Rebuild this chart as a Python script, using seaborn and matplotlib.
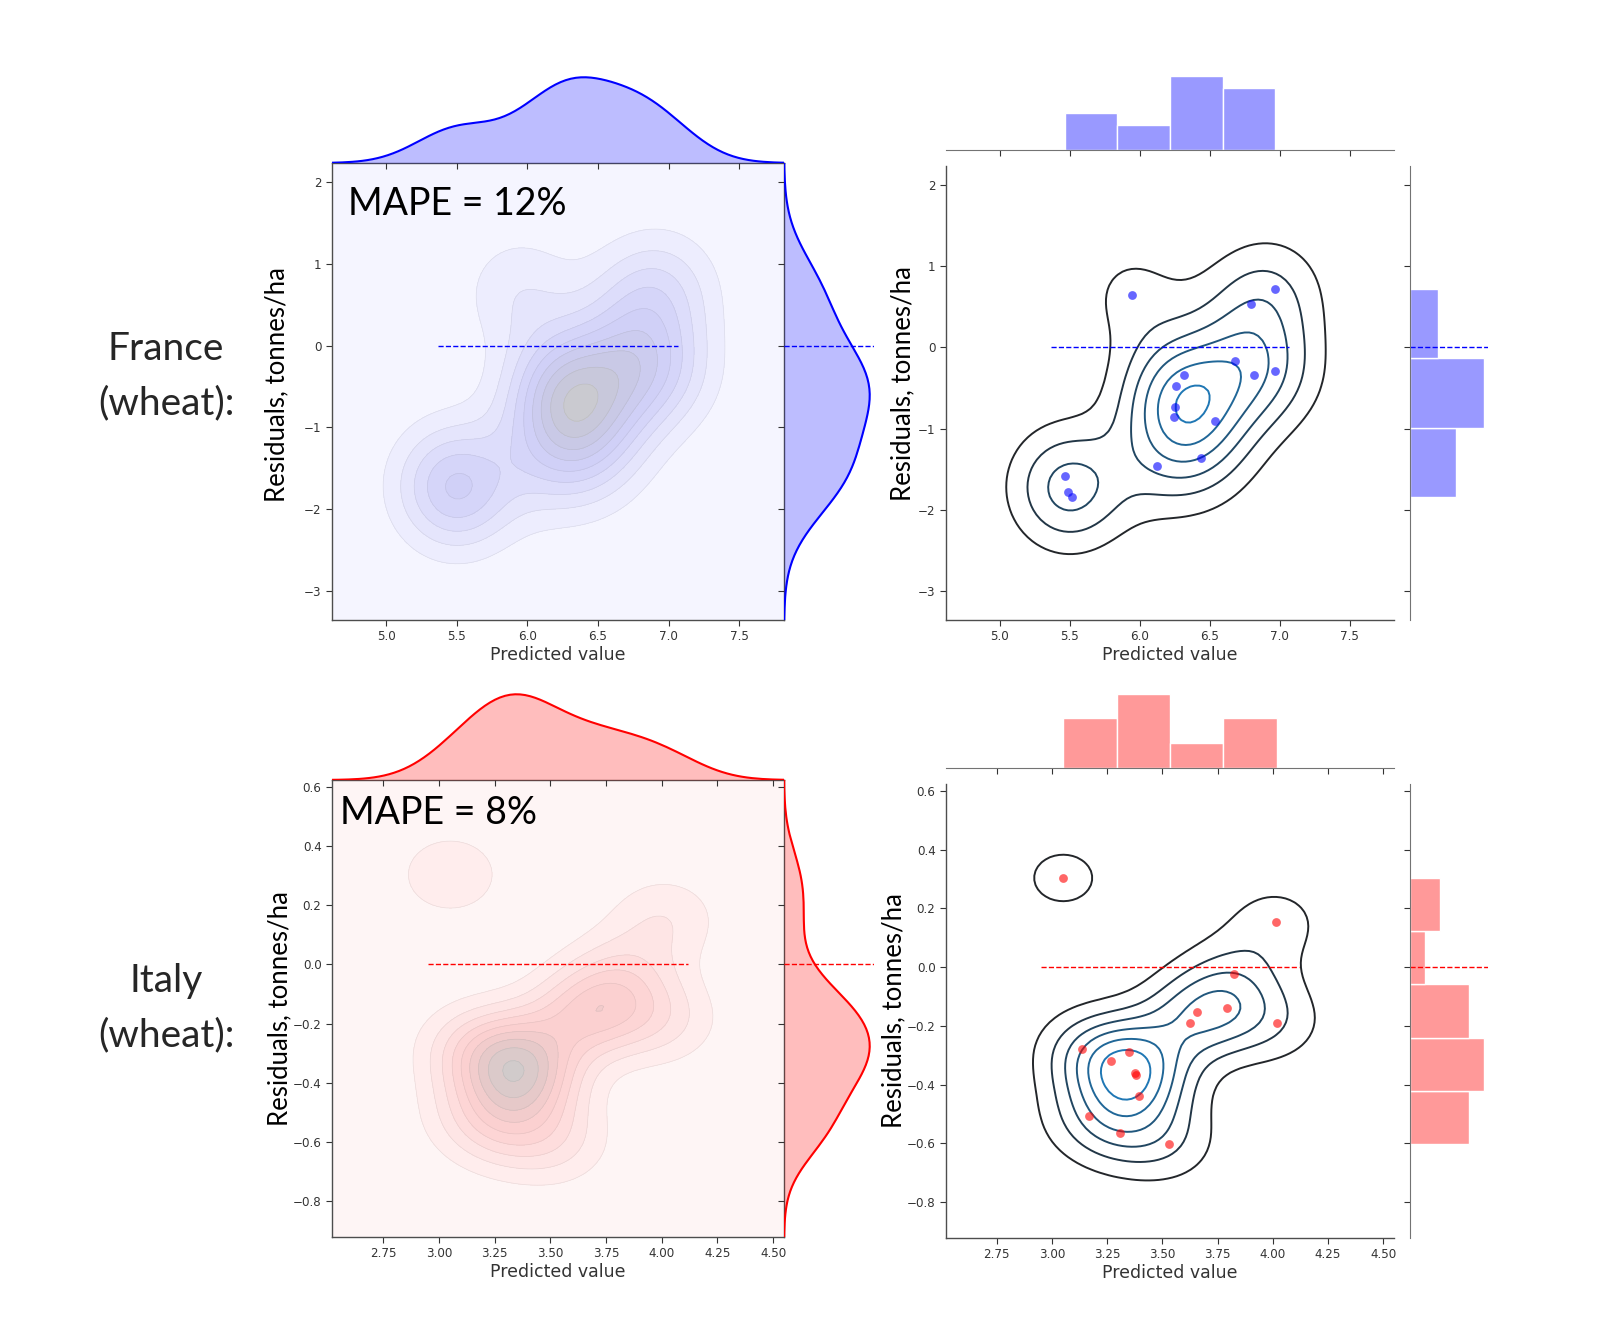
import numpy as np
import pandas as pd
import matplotlib
matplotlib.use("Agg")
import matplotlib.pyplot as plt
from matplotlib.ticker import MaxNLocator
import seaborn as sns
from matplotlib.colors import LinearSegmentedColormap

# ---------------- data ----------------
france_pred = [5.945, 6.970, 6.796, 6.678, 6.820, 6.967, 6.320, 6.261,
               6.251, 6.249, 6.540, 6.441, 6.126, 5.464, 5.488, 5.517]
france_resid = [0.652, 0.717, 0.537, -0.164, -0.336, -0.291, -0.336, -0.480,
                -0.734, -0.852, -0.910, -1.361, -1.455, -1.578, -1.779, -1.840]
italy_pred = [3.051, 4.013, 3.822, 3.657, 3.627, 3.794, 4.018, 3.137,
              3.351, 3.269, 3.374, 3.381, 3.396, 3.167, 3.309, 3.531]
italy_resid = [0.304, 0.155, -0.024, -0.153, -0.189, -0.139, -0.190, -0.280,
               -0.287, -0.320, -0.359, -0.368, -0.440, -0.507, -0.564, -0.602]

france_mape = "MAPE = 12%"
italy_mape = "MAPE = 8%"
row_labels = ["France\n(wheat):", "Italy\n(wheat):"]

france_xticks = [5.0, 5.5, 6.0, 6.5, 7.0, 7.5]
france_yticks = [-3, -2, -1, 0, 1, 2]
italy_xticks = [2.75, 3.00, 3.25, 3.50, 3.75, 4.00, 4.25, 4.50]
italy_yticks = [-0.8, -0.6, -0.4, -0.2, 0.0, 0.2, 0.4, 0.6]

france_bins = (4, 3)
italy_bins = (4, 5)

# ---------------- style ----------------
sns.set_style("ticks")
plt.rcParams["font.family"] = ["DejaVu Sans"]
GEOM = ["Lato", "DejaVu Sans"]
W, H = 1597, 1337
fig = plt.figure(figsize=(W / 100, H / 100), dpi=100)


def fr(l, t, r, b):
    return [l / W, 1 - b / H, (r - l) / W, (b - t) / H]


blue_fill = LinearSegmentedColormap.from_list(
    "bf", ["#f8f8ff", "#eeeefe", "#e2e2fc", "#d6d6fa", "#cfcff6",
           "#c9c9ea", "#c8c8da", "#cbcbcb"])
red_fill = LinearSegmentedColormap.from_list(
    "rf", ["#fdf8f8", "#ffeeee", "#fee2e2", "#fdd6d6", "#fbcfcf",
           "#ebc9c9", "#dacaca", "#cccccc"])
dark_cmap = sns.dark_palette("#1f77b4", as_cmap=True)


def bw_scott(a):
    a = np.asarray(a, float)
    iqr = (np.percentile(a, 75) - np.percentile(a, 25)) / 1.349
    sigma = min(a.std(ddof=1), iqr) if iqr > 0 else a.std(ddof=1)
    return 1.059 * sigma * len(a) ** (-0.2)


def kde_grid(x, y, cut=3, gridsize=100):
    x = np.asarray(x, float)
    y = np.asarray(y, float)
    bx, by = bw_scott(x), bw_scott(y)
    xs = np.linspace(x.min() - cut * bx, x.max() + cut * bx, gridsize)
    ys = np.linspace(y.min() - cut * by, y.max() + cut * by, gridsize)
    xx, yy = np.meshgrid(xs, ys)
    z = np.zeros_like(xx)
    for xi, yi in zip(x, y):
        z += np.exp(-0.5 * ((xx - xi) / bx) ** 2 - 0.5 * ((yy - yi) / by) ** 2)
    z /= (2 * np.pi * bx * by * len(x))
    return xx, yy, z, (xs[0], xs[-1]), (ys[0], ys[-1])


def bw_adjust_for(a):
    a = np.asarray(a, float)
    return bw_scott(a) / (a.std(ddof=1) * len(a) ** (-0.2))


def style_joint(ax, xlim, ylim, xticks, yticks, all_spines, label_xy):
    ax.set_xlim(*xlim)
    ax.set_ylim(*ylim)
    ax.set_xticks(xticks)
    ax.set_yticks(yticks)
    ax.tick_params(labelsize=8.6, colors="0.2", length=4, width=0.8, direction="out")
    for s in ["top", "right"]:
        ax.spines[s].set_visible(all_spines)
    for s in ax.spines.values():
        s.set_color("0.3")
        s.set_linewidth(1.0)
    ax.set_xlabel("Predicted value", fontsize=12.5, color="0.2", labelpad=2)
    ax.set_ylabel("Residuals, tonnes/ha", fontsize=18.5, family=GEOM,
                  color="black")
    ax.yaxis.set_label_coords(*label_xy)


def style_margx(ax, xlim, xticks):
    ax.set_xlim(*xlim)
    ax.set_xticks(xticks)
    ax.set_xlabel("")
    ax.set_ylabel("")
    for s in ["top", "left", "right"]:
        ax.spines[s].set_visible(False)
    ax.spines["bottom"].set_color("0.45")
    ax.tick_params(axis="x", labelbottom=False, length=4, width=0.8, colors="0.2")
    ax.tick_params(axis="y", left=False, labelleft=False)
    ax.set_facecolor("none")


def style_margy(ax, ylim, yticks):
    ax.set_ylim(*ylim)
    ax.set_yticks(yticks)
    ax.set_xlabel("")
    ax.set_ylabel("")
    for s in ["top", "bottom", "right"]:
        ax.spines[s].set_visible(False)
    ax.spines["left"].set_color("0.45")
    ax.tick_params(axis="y", labelleft=False, length=4, width=0.8, colors="0.2")
    ax.tick_params(axis="x", bottom=False, labelbottom=False)
    ax.set_facecolor("none")


def left_panel(top, x, y, color, cmap, xticks, yticks, mape, mape_xy, label_xy):
    jt, jb = top, top + 457
    ax_j = fig.add_axes(fr(332, jt, 784, jb))
    ax_x = fig.add_axes(fr(332, jt - 90, 784, jt))
    ax_y = fig.add_axes(fr(784, jt, 874, jb))
    df = pd.DataFrame({"x": x, "y": y})
    xx, yy, z, xlim, ylim = kde_grid(x, y)
    cs = ax_j.contourf(xx, yy, z, 10, cmap=cmap)
    ax_j.contour(xx, yy, z, levels=cs.levels[1:-1], colors="0.45",
                 linewidths=0.5, alpha=0.15)
    xmin, xmax = min(x) - 0.1, max(x) + 0.1
    ax_j.hlines(0, xmin, xmax, colors=color, linestyles="--", linewidth=1.0)
    style_joint(ax_j, xlim, ylim, xticks, yticks, True, label_xy)
    ax_j.text(mape_xy[0], mape_xy[1], mape, transform=ax_j.transAxes,
              fontsize=27, family=GEOM, ha="left", va="center", color="black")

    ax_adj, ay_adj = bw_adjust_for(x), bw_adjust_for(y)
    sns.kdeplot(data=df, x="x", fill=True, color=color, alpha=0.26, linewidth=0,
                cut=10, bw_adjust=ax_adj, ax=ax_x)
    sns.kdeplot(data=df, x="x", color=color, linewidth=1.5, cut=10,
                bw_adjust=ax_adj, ax=ax_x)
    style_margx(ax_x, xlim, xticks)
    ax_x.spines["bottom"].set_visible(False)
    ax_x.set_ylim(bottom=0)

    sns.kdeplot(data=df, y="y", fill=True, color=color, alpha=0.26, linewidth=0,
                cut=10, bw_adjust=ay_adj, ax=ax_y)
    sns.kdeplot(data=df, y="y", color=color, linewidth=1.5, cut=10,
                bw_adjust=ay_adj, ax=ax_y)
    ax_y.axhline(0, color=color, ls="--", lw=1.0)
    style_margy(ax_y, ylim, yticks)
    ax_y.spines["left"].set_visible(False)
    ax_y.set_xlim(left=0)


def right_panel(top, x, y, color, xticks, yticks, bins, label_xy):
    jt, jb = top, top + 454
    ax_j = fig.add_axes(fr(946, jt, 1394, jb))
    ax_x = fig.add_axes(fr(946, jt - 16 - 78, 1394, jt - 16))
    ax_y = fig.add_axes(fr(1410, jt, 1488, jb))
    df = pd.DataFrame({"x": x, "y": y})
    xx, yy, z, xlim, ylim = kde_grid(x, y)
    lev = MaxNLocator(7).tick_values(z.min(), z.max())
    lev = lev[(lev > z.min()) & (lev < z.max())]
    ax_j.contour(xx, yy, z, levels=lev, cmap=dark_cmap, linewidths=1.4)
    sns.scatterplot(data=df, x="x", y="y", color=color, alpha=0.6, s=40,
                    linewidth=0, ax=ax_j, zorder=5)
    xmin, xmax = min(x) - 0.1, max(x) + 0.1
    ax_j.hlines(0, xmin, xmax, colors=color, linestyles="--", linewidth=1.0)
    style_joint(ax_j, xlim, ylim, xticks, yticks, False, label_xy)

    sns.histplot(data=df, x="x", bins=bins[0], color=color, alpha=0.4,
                 edgecolor="white", linewidth=1.0, ax=ax_x)
    style_margx(ax_x, xlim, xticks)

    sns.histplot(data=df, y="y", bins=bins[1], color=color, alpha=0.4,
                 edgecolor="white", linewidth=1.0, ax=ax_y)
    ax_y.axhline(0, color=color, ls="--", lw=1.0)
    style_margy(ax_y, ylim, yticks)


left_panel(163, france_pred, france_resid, "blue", blue_fill,
           france_xticks, france_yticks, france_mape, (0.035, 0.91), (-0.094, 0.515))
right_panel(166, france_pred, france_resid, "blue",
            france_xticks, france_yticks, france_bins, (-0.068, 0.52))
left_panel(780, italy_pred, italy_resid, "red", red_fill,
           italy_xticks, italy_yticks, italy_mape, (0.018, 0.928), (-0.088, 0.5))
right_panel(784, italy_pred, italy_resid, "red",
            italy_xticks, italy_yticks, italy_bins, (-0.088, 0.5))

fig.text(166 / W, 1 - 376 / H, row_labels[0], ha="center", va="center",
         fontsize=28, family=GEOM, linespacing=1.65)
fig.text(166 / W, 1 - 1008 / H, row_labels[1], ha="center", va="center",
         fontsize=28, family=GEOM, linespacing=1.65)

fig.savefig("out.png", dpi=100, facecolor="white")
